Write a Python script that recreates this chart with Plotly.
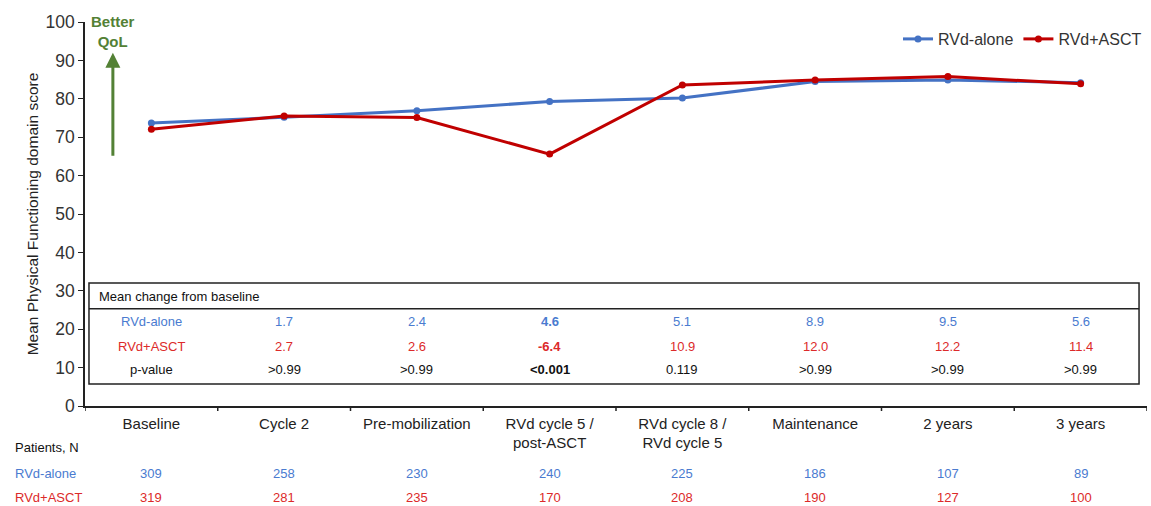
import plotly.graph_objects as go

# Time points and series
categories = ["Baseline", "Cycle 2", "Pre-mobilization", "RVd cycle 5 /<br>post-ASCT",
              "RVd cycle 8 /<br>RVd cycle 5", "Maintenance", "2 years", "3 years"]
rvd_alone = [73.7, 75.2, 76.9, 79.3, 80.2, 84.5, 84.9, 84.2]
rvd_asct = [72.1, 75.5, 75.1, 65.6, 83.6, 84.9, 85.8, 83.9]

# Mean change from baseline table
chg_alone = ["1.7", "2.4", "4.6", "5.1", "8.9", "9.5", "5.6"]
chg_asct = ["2.7", "2.6", "-6.4", "10.9", "12.0", "12.2", "11.4"]
p_values = [">0.99", ">0.99", "<0.001", "0.119", ">0.99", ">0.99", ">0.99"]
bold_col = 2

# Patient counts
n_alone = [309, 258, 230, 240, 225, 186, 107, 89]
n_asct = [319, 281, 235, 170, 208, 190, 127, 100]

BLUE = "#4472C4"
RED = "#C00000"
BLUE_TXT = "#4A7BD0"
RED_TXT = "#DC2A2A"
GREEN = "#538135"
FONT = "Liberation Sans, Arial, sans-serif"

W, H = 1151, 506
M_L, M_R, M_T, M_B = 85, 4, 22, 100
plot_h = H - M_T - M_B
plot_w = W - M_L - M_R


def py(pix):
    """Pixel row -> paper y coordinate."""
    return (H - M_B - pix) / plot_h


def px(pix):
    """Pixel column -> paper x coordinate."""
    return (pix - M_L) / plot_w


x_idx = list(range(len(categories)))

fig = go.Figure()
fig.add_trace(go.Scatter(x=x_idx, y=rvd_alone, name="RVd-alone", mode="lines+markers",
                         line=dict(color=BLUE, width=3), marker=dict(size=7, color=BLUE)))
fig.add_trace(go.Scatter(x=x_idx, y=rvd_asct, name="RVd+ASCT", mode="lines+markers",
                         line=dict(color=RED, width=3), marker=dict(size=7, color=RED)))

ann = []
shapes = []

# Table frame and header separator
shapes.append(dict(type="rect", xref="x", yref="y", x0=-0.47, x1=7.44, y0=5.7, y1=32.0,
                   line=dict(color="#222", width=1.5), fillcolor="white", layer="below"))
shapes.append(dict(type="line", xref="x", yref="y", x0=-0.47, x1=7.44, y0=25.3, y1=25.3,
                   line=dict(color="#222", width=1.5)))
ann.append(dict(x=-0.41, y=28.6, xref="x", yref="y", text="Mean change from baseline",
                showarrow=False, xanchor="left", yanchor="middle",
                font=dict(size=13, color="#111", family=FONT)))

rows = [("RVd-alone", chg_alone, BLUE_TXT, 22.1),
        ("RVd+ASCT", chg_asct, RED_TXT, 15.6),
        ("p-value", p_values, "#111", 9.6)]
for label, vals, col, yv in rows:
    ann.append(dict(x=0, y=yv, xref="x", yref="y", text=label, showarrow=False, yanchor="middle",
                    font=dict(size=13, color=col, family=FONT)))
    for i, v in enumerate(vals):
        txt = f"<b>{v}</b>" if i == bold_col else v
        ann.append(dict(x=i + 1, y=yv, xref="x", yref="y", text=txt, showarrow=False,
                        yanchor="middle", font=dict(size=13, color=col, family=FONT)))

# Patient counts below the axis
ann.append(dict(x=px(13), y=py(447), xref="paper", yref="paper", text="Patients, N",
                showarrow=False, xanchor="left", yanchor="middle",
                font=dict(size=13, color="#111", family=FONT)))
for label, vals, col, pix in [("RVd-alone", n_alone, BLUE_TXT, 473), ("RVd+ASCT", n_asct, RED_TXT, 497)]:
    ann.append(dict(x=px(13), y=py(pix), xref="paper", yref="paper", text=label,
                    showarrow=False, xanchor="left", yanchor="middle",
                    font=dict(size=13, color=col, family=FONT)))
    for i, v in enumerate(vals):
        ann.append(dict(x=i, y=py(pix), xref="x", yref="paper", text=str(v), showarrow=False,
                        yanchor="middle", font=dict(size=13, color=col, family=FONT)))

# Better QoL arrow
ann.append(dict(x=-0.29, y=97.6, xref="x", yref="y", text="<b>Better<br>QoL</b>", showarrow=False,
                yanchor="middle", font=dict(size=15, color=GREEN, family=FONT)))
ann.append(dict(x=-0.29, y=92.0, ax=-0.29, ay=64.8, xref="x", yref="y", axref="x", ayref="y",
                text="", showarrow=True, arrowhead=2, arrowsize=1, arrowwidth=3, arrowcolor=GREEN))

# Boundary tick marks between categories
for b in [i + 0.5 for i in range(-1, 8)]:
    shapes.append(dict(type="line", xref="x", yref="paper", x0=b, x1=b, y0=0, y1=-0.013,
                       line=dict(color="#222", width=1.5)))

fig.update_layout(
    width=W, height=H,
    margin=dict(l=M_L, r=M_R, t=M_T, b=M_B),
    plot_bgcolor="white", paper_bgcolor="white",
    font=dict(family=FONT, color="#333"),
    showlegend=True,
    legend=dict(orientation="h", x=1.0, xanchor="right", y=1.0, yanchor="top",
                font=dict(size=16, color="#333"), bgcolor="rgba(0,0,0,0)",
                itemwidth=30, traceorder="normal"),
    annotations=ann,
    shapes=shapes,
)
fig.update_xaxes(
    type="linear", range=[-0.5, 7.5], tickmode="array", tickvals=x_idx, ticktext=categories,
    showline=True, linecolor="#222", linewidth=1.5, showgrid=False, zeroline=False,
    ticks="", tickfont=dict(size=15, color="#222"), ticklabelstandoff=3,
)
fig.update_yaxes(
    range=[0, 100], dtick=10, showline=True, linecolor="#222", linewidth=1.5,
    showgrid=False, zeroline=False, ticks="outside", ticklen=5, tickcolor="#222",
    tickfont=dict(size=17.5, color="#333"),
    title=dict(text="Mean Physical Functioning domain score", font=dict(size=15.5, color="#222"), standoff=3),
)

fig.write_html("out.html")
